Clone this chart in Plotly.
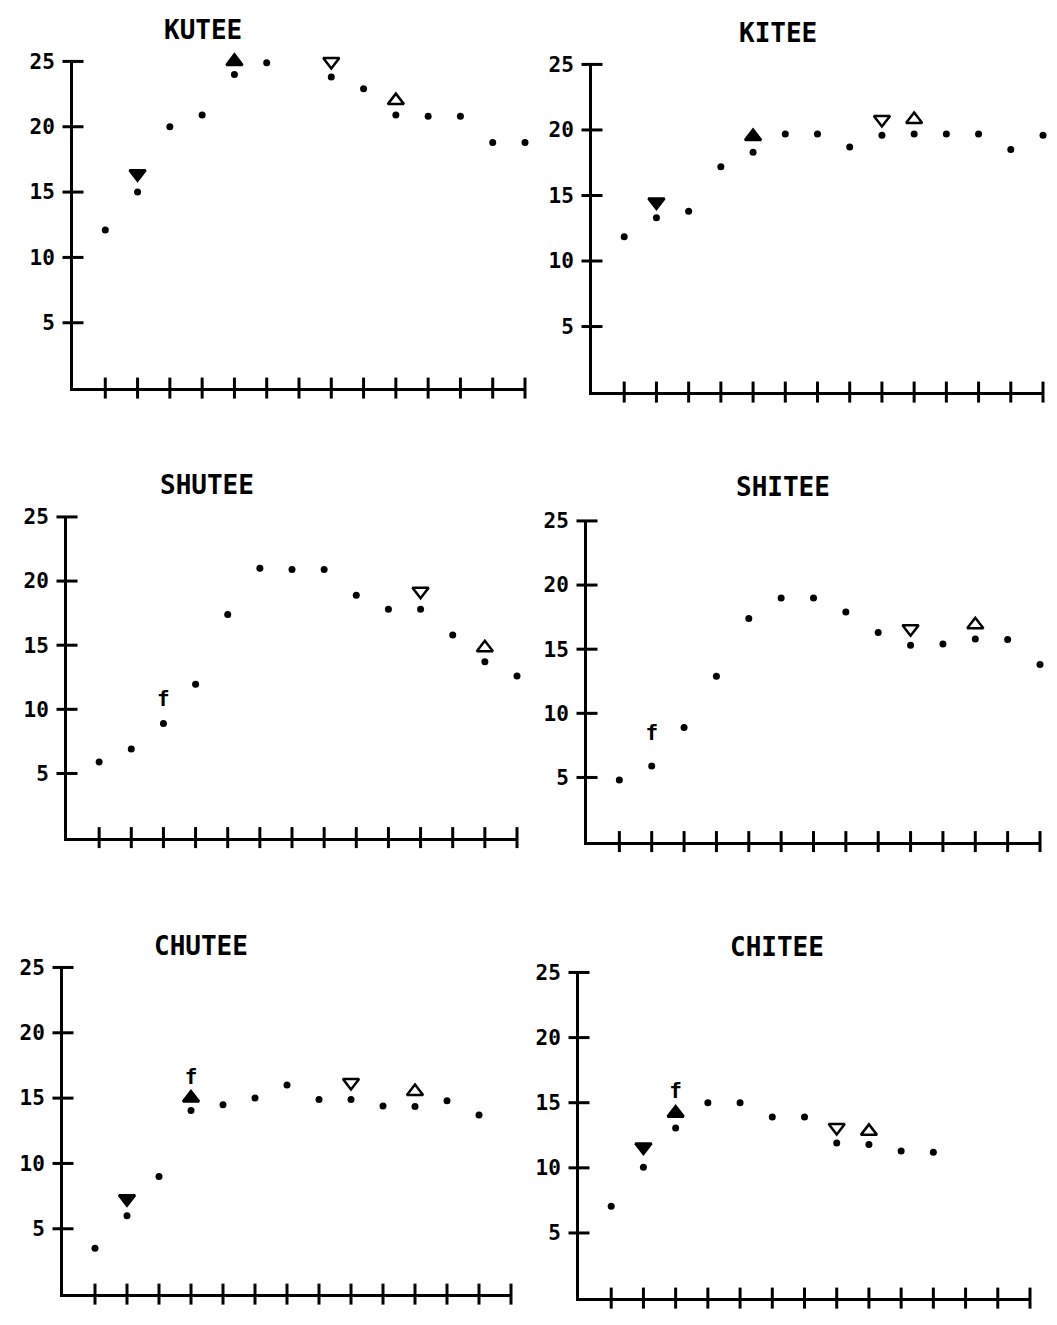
import plotly.graph_objects as go

W, H = 1057, 1325
OFF = 8  # page body margin of the generated html

TITLES = ["KUTEE", "KITEE", "SHUTEE", "SHITEE", "CHUTEE", "CHITEE"]
X_TICKS = list(range(1, 15))
Y_TICKS = [5, 10, 15, 20, 25]
Y_TICK_TEXT = ["5", "10", "15", "20", "25"]

# dot series (values at x = 1, 2, 3, ...)
kutee = [12.1, 15.0, 20.0, 20.9, 24.0, 24.9, 26.0, 23.8, 22.9, 20.9, 20.8, 20.8, 18.8, 18.8]
kitee = [11.85, 13.3, 13.8, 17.2, 18.3, 19.7, 19.7, 18.7, 19.6, 19.7, 19.7, 19.7, 18.5, 19.6]
shutee = [5.9, 6.9, 8.9, 11.95, 17.4, 21.0, 20.9, 20.9, 18.9, 17.8, 17.8, 15.8, 13.7, 12.6]
shitee = [4.8, 5.9, 8.9, 12.9, 17.4, 19.0, 19.0, 17.9, 16.3, 15.3, 15.4, 15.8, 15.75, 13.8]
chutee = [3.5, 6.0, 9.0, 14.05, 14.5, 15.0, 16.0, 14.9, 14.9, 14.4, 14.35, 14.8, 13.7]
chitee = [7.05, 10.05, 13.05, 15.0, 15.0, 13.9, 13.9, 11.9, 11.8, 11.3, 11.2]
SERIES = [kutee, kitee, shutee, shitee, chutee, chitee]

# special symbols per panel: (x, y) or None
down_filled = [(2, 16.4), (2, 14.5), None, None, (2, 7.3), (2, 11.6)]
up_filled = [(5, 25.0), (5, 19.5), None, None, (4, 15.0), (3, 14.2)]
down_open = [(8, 25.0), (9, 20.8), (11, 19.2), (10, 16.6), (9, 16.2), (8, 13.1)]
up_open = [(10, 22.0), (10, 20.8), (13, 14.8), (12, 16.9), (11, 15.5), (9, 12.8)]
f_marks = [None, None, (3, 10.7), (2, 8.3), (4, 16.5), (3, 15.8)]

# panel frames in target pixels: (y-axis x, right end x, y of 25 tick, y of x-axis)
FRAMES = [
    (73, 525, 61, 388),
    (592, 1043, 64, 392),
    (67, 517, 517, 838),
    (587, 1040, 521, 842),
    (63, 511, 968, 1295),
    (579, 1030, 973, 1299),
]
TITLE_POS = [(203, 30), (778, 33), (207, 485), (783, 487), (201, 947), (777, 948)]

FONT = "DejaVu Sans Mono"


def px_x(p):
    return (p - OFF) / W


def px_y(p):
    page = (p - 11.6) / 0.992
    return 1 - (page - OFF) / H


fig = go.Figure()
layout = dict(
    width=W, height=H, margin=dict(l=0, r=0, t=0, b=0),
    paper_bgcolor="white", plot_bgcolor="white", showlegend=False,
    annotations=[],
)

for i in range(6):
    n = "" if i == 0 else str(i + 1)
    xa, ya = "x" + n, "y" + n
    x0, x1, ytop, ybot = FRAMES[i]
    layout["xaxis" + n] = dict(
        domain=[px_x(x0), px_x(x1)], range=[0, 14], anchor=ya,
        showline=True, linewidth=3, linecolor="black",
        showgrid=False, zeroline=False, showticklabels=False, ticks="",
        fixedrange=True,
    )
    layout["yaxis" + n] = dict(
        domain=[px_y(ybot), px_y(ytop)], range=[0, 25], anchor=xa,
        showline=True, linewidth=3, linecolor="black",
        showgrid=False, zeroline=False, ticks="",
        tickvals=Y_TICKS, ticktext=Y_TICK_TEXT,
        tickfont=dict(family=FONT, size=21, color="black", weight="bold"),
        ticklabelstandoff=11, fixedrange=True,
    )
    # cross-shaped ticks
    fig.add_trace(go.Scatter(
        x=[0] * len(Y_TICKS), y=Y_TICKS, mode="markers", xaxis=xa, yaxis=ya,
        marker=dict(symbol="line-ew", size=15, line=dict(width=3, color="black")),
        cliponaxis=False, hoverinfo="skip"))
    fig.add_trace(go.Scatter(
        x=X_TICKS, y=[0] * len(X_TICKS), mode="markers", xaxis=xa, yaxis=ya,
        marker=dict(symbol="line-ns", size=15, line=dict(width=3, color="black")),
        cliponaxis=False, hoverinfo="skip"))
    # dots
    vals = SERIES[i]
    fig.add_trace(go.Scatter(
        x=list(range(1, len(vals) + 1)), y=vals, mode="markers", xaxis=xa, yaxis=ya,
        marker=dict(symbol="circle", size=7, color="black"), cliponaxis=False))
    for pts, sym in [(down_filled, "triangle-down"), (up_filled, "triangle-up"),
                     (down_open, "triangle-down-open"), (up_open, "triangle-up-open")]:
        p = pts[i]
        if p is None:
            continue
        fig.add_trace(go.Scatter(
            x=[p[0]], y=[p[1]], mode="markers", xaxis=xa, yaxis=ya,
            marker=dict(symbol=sym, size=14, color="black",
                        line=dict(width=2.5, color="black")),
            cliponaxis=False))
    fm = f_marks[i]
    if fm is not None:
        fig.add_trace(go.Scatter(
            x=[fm[0]], y=[fm[1]], mode="text", text=["f"], xaxis=xa, yaxis=ya,
            textfont=dict(family=FONT, size=21, color="black", weight="bold"),
            cliponaxis=False))
    tx, ty = TITLE_POS[i]
    layout["annotations"].append(dict(
        x=px_x(tx), y=px_y(ty), xref="paper", yref="paper", text=TITLES[i],
        showarrow=False, xanchor="center", yanchor="middle",
        font=dict(family=FONT, size=26, color="black", weight="bold")))

fig.update_layout(**layout)
fig.write_html("out.html")
